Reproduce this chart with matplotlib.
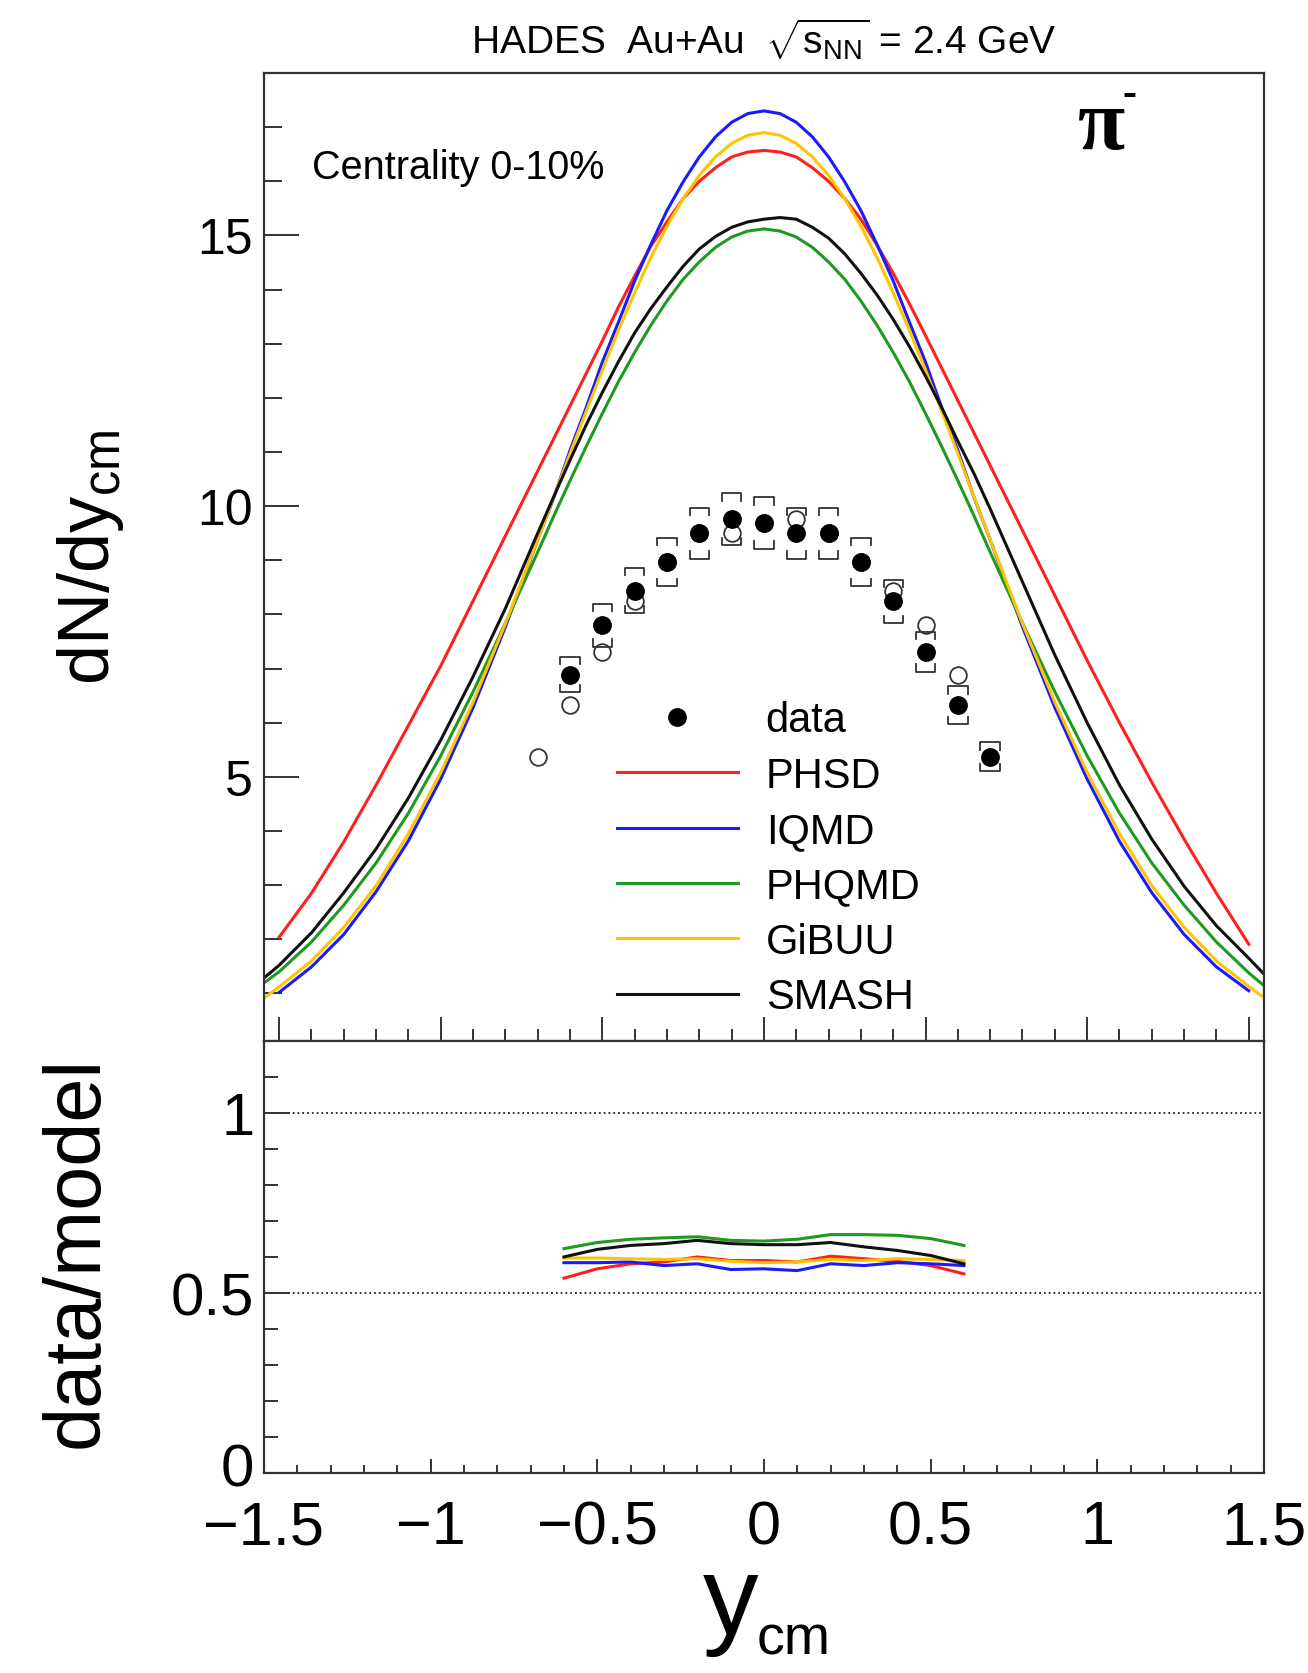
import numpy as np
import matplotlib
matplotlib.use('Agg')
import matplotlib.pyplot as plt
import matplotlib.transforms as mtransforms
from matplotlib.ticker import FixedLocator, MultipleLocator
from matplotlib.lines import Line2D

plt.rcParams['font.family'] = ['Liberation Sans', 'DejaVu Sans']
plt.rcParams['mathtext.fontset'] = 'custom'
plt.rcParams['mathtext.rm'] = 'Liberation Sans'
plt.rcParams['mathtext.it'] = 'Liberation Sans:italic'
plt.rcParams['mathtext.bf'] = 'Liberation Sans:bold'

# measured pi- yield (filled) with systematic brackets
y_data = [-0.6, -0.5, -0.4, -0.3, -0.2, -0.1, 0.0, 0.1, 0.2, 0.3, 0.4, 0.5, 0.6, 0.7]
dndy_data = [6.89, 7.80, 8.44, 8.97, 9.50, 9.76, 9.69, 9.50, 9.50, 8.97, 8.24, 7.31, 6.32, 5.37]
dndy_sys = [0.33, 0.40, 0.42, 0.45, 0.47, 0.48, 0.48, 0.47, 0.47, 0.45, 0.40, 0.37, 0.35, 0.27]

# reflected points (open circles)
y_refl = [-0.7, -0.6, -0.5, -0.4, -0.3, -0.2, -0.1, 0.0, 0.1, 0.2, 0.3, 0.4, 0.5, 0.6]
dndy_refl = [5.37, 6.32, 7.31, 8.24, 8.97, 9.50, 9.50, 9.69, 9.76, 9.50, 8.97, 8.44, 7.80, 6.89]

# transport model curves
y_model = [-1.55, -1.5, -1.4, -1.3, -1.2, -1.1, -1.0, -0.9, -0.8,
           -0.7, -0.65, -0.6, -0.55, -0.5, -0.45, -0.4, -0.35, -0.3, -0.25, -0.2, -0.15,
           -0.1, -0.05, 0.0, 0.05, 0.1, 0.15, 0.2, 0.25, 0.3, 0.35, 0.4, 0.45, 0.5, 0.55,
           0.6, 0.65, 0.7,
           0.8, 0.9, 1.0, 1.1, 1.2, 1.3, 1.4, 1.5, 1.55]
nan = np.nan
phsd = [nan, 2.04, 2.85, 3.8, 4.85, 5.95, 7.05, 8.25, 9.45,
        10.65, 11.25, 11.85, 12.45, 13.05, 13.68, 14.25, 14.8, 15.25, 15.68, 16.0, 16.25,
        16.45, 16.54, 16.57, 16.54, 16.45, 16.25, 16.0, 15.68, 15.3, 14.82, 14.3, 13.74,
        13.15, 12.55, 11.95, 11.35, 10.75,
        9.55, 8.35, 7.15, 6.0, 4.9, 3.85, 2.85, 1.91, nan]
iqmd = [nan, 1.02, 1.49, 2.09, 2.88, 3.82, 4.96, 6.28, 7.77,
        9.38, 10.16, 11.03, 11.82, 12.66, 13.40, 14.16, 14.83, 15.46, 15.99, 16.45, 16.82,
        17.09, 17.25, 17.3, 17.25, 17.09, 16.82, 16.45, 15.99, 15.46, 14.83, 14.16, 13.40,
        12.66, 11.82, 11.03, 10.16, 9.38,
        7.77, 6.28, 4.96, 3.81, 2.86, 2.09, 1.49, 1.05, nan]
phqmd = [1.18, 1.40, 1.95, 2.63, 3.41, 4.33, 5.39, 6.57, 7.84,
         9.15, 9.82, 10.47, 11.10, 11.71, 12.30, 12.84, 13.34, 13.79, 14.19, 14.51, 14.78,
         14.97, 15.08, 15.12, 15.08, 14.97, 14.78, 14.51, 14.19, 13.79, 13.34, 12.84, 12.30,
         11.71, 11.10, 10.47, 9.82, 9.15,
         7.84, 6.57, 5.39, 4.33, 3.41, 2.63, 1.95, 1.38, 1.13]
gibuu = [0.90, 1.12, 1.60, 2.22, 2.99, 3.95, 5.08, 6.38, 7.83,
         9.38, 10.17, 10.97, 11.75, 12.51, 13.25, 13.94, 14.59, 15.17, 15.68, 16.11, 16.45,
         16.70, 16.85, 16.9, 16.85, 16.70, 16.45, 16.11, 15.68, 15.17, 14.59, 13.94, 13.25,
         12.51, 11.75, 10.97, 10.17, 9.38,
         7.83, 6.38, 5.08, 3.95, 2.99, 2.22, 1.60, 1.13, 0.91]
smash = [1.27, 1.52, 2.12, 2.86, 3.67, 4.61, 5.68, 6.85, 8.11,
         9.5, 10.18, 10.85, 11.5, 12.1, 12.67, 13.2, 13.65, 14.05, 14.43, 14.75, 14.98,
         15.15, 15.25, 15.3, 15.33, 15.3, 15.15, 14.95, 14.66, 14.3, 13.9, 13.45, 12.95,
         12.4, 11.82, 11.2, 10.6, 9.95,
         8.6, 7.25, 6.0, 4.85, 3.85, 2.98, 2.25, 1.65, 1.34]

# data/model ratios
y_ratio = [-0.6, -0.5, -0.4, -0.3, -0.2, -0.1, 0.0, 0.1, 0.2, 0.3, 0.4, 0.5, 0.6]
ratio_phsd = [0.541, 0.567, 0.581, 0.586, 0.600, 0.590, 0.590, 0.586, 0.602, 0.595, 0.588, 0.576, 0.553]
ratio_iqmd = [0.584, 0.584, 0.586, 0.576, 0.581, 0.565, 0.567, 0.562, 0.581, 0.576, 0.584, 0.581, 0.576]
ratio_phqmd = [0.623, 0.640, 0.649, 0.653, 0.656, 0.646, 0.644, 0.649, 0.662, 0.662, 0.660, 0.651, 0.632]
ratio_gibuu = [0.597, 0.597, 0.595, 0.593, 0.595, 0.588, 0.584, 0.586, 0.593, 0.590, 0.595, 0.593, 0.590]
ratio_smash = [0.600, 0.621, 0.632, 0.637, 0.646, 0.637, 0.634, 0.634, 0.640, 0.628, 0.618, 0.604, 0.581]

model_names = ['PHSD', 'IQMD', 'PHQMD', 'GiBUU', 'SMASH']
model_colors = ['#ff1f1f', '#1a1aff', '#1f9a1f', '#ffc400', '#111111']
model_curves = [phsd, iqmd, phqmd, gibuu, smash]
model_ratios = [ratio_phsd, ratio_iqmd, ratio_phqmd, ratio_gibuu, ratio_smash]

x_ticks = [-1.5, -1.0, -0.5, 0.0, 0.5, 1.0, 1.5]
x_ticklabels = ['\u22121.5', '\u22121', '\u22120.5', '0', '0.5', '1', '1.5']
ratio_lines = [1.0, 0.5]


def draw_brackets(ax, xs, ys, errs, half_w, tick, **kw):
    for x, y, e in zip(xs, ys, errs):
        top, bot = y + e, y - e
        ax.plot([x - half_w, x - half_w, x + half_w, x + half_w],
                [top - tick, top, top, top - tick], **kw)
        ax.plot([x - half_w, x - half_w, x + half_w, x + half_w],
                [bot + tick, bot, bot, bot + tick], **kw)


fig = plt.figure(figsize=(13.08, 16.74), dpi=100)
ax1 = fig.add_axes([0.2018, 0.3775, 0.7645, 0.5783])
ax2 = fig.add_axes([0.2018, 0.1195, 0.7645, 0.2581])

for name, col, vals in zip(model_names, model_colors, model_curves):
    ax1.plot(y_model, vals, color=col, lw=2.2, label=name, zorder=2,
             solid_joinstyle='round')

ax1.plot(y_refl, dndy_refl, ls='none', marker='o', ms=12, mfc='none', mec='#333333',
         mew=1.3, zorder=3)
draw_brackets(ax1, y_data, dndy_data, dndy_sys, 0.03, 0.14, color='#333333', lw=1.3, zorder=3)
ax1.plot(y_data, dndy_data, ls='none', marker='o', ms=12.5, color='black', zorder=4)

ax1.set_xlim(-1.547, 1.547)
ax1.set_ylim(0.12, 18)
ax1.xaxis.set_major_locator(FixedLocator(x_ticks))
ax1.xaxis.set_minor_locator(MultipleLocator(0.1))
ax1.yaxis.set_major_locator(FixedLocator([5, 10, 15]))
ax1.yaxis.set_minor_locator(MultipleLocator(1))
ax1.tick_params(axis='x', which='both', direction='in', labelbottom=False, top=False,
                width=1.4, color='#333333')
ax1.tick_params(axis='x', which='major', length=17)
ax1.tick_params(axis='x', which='minor', length=8.6)
ax1.tick_params(axis='y', which='both', direction='in', right=False, width=1.4, color='#333333')
ax1.tick_params(axis='y', which='major', length=25, labelsize=36, pad=8)
ax1.tick_params(axis='y', which='minor', length=13)

handles = [Line2D([], [], ls='none', marker='o', ms=12.5, color='black')]
handles += [Line2D([], [], color=c, lw=2.2) for c in model_colors]
ax1.legend(handles, ['data'] + model_names, loc='upper left', bbox_to_anchor=(0.353, 0.352),
           frameon=False, fontsize=30, handlelength=2.9, handletextpad=0.67,
           labelspacing=0.37, borderpad=0, borderaxespad=0)

ax1.text(0.048, 0.903, 'Centrality 0-10%', transform=ax1.transAxes, fontsize=28.5,
         ha='left', va='center')
ax1.text(0.814, 0.944, '\u03c0', transform=ax1.transAxes, fontsize=62,
         family='Liberation Serif', fontweight='bold', ha='left', va='center')
ax1.text(0.859, 0.978, '-', transform=ax1.transAxes, fontsize=30,
         family='Liberation Serif', fontweight='bold', ha='left', va='center')

for name, col, vals in zip(model_names, model_colors, model_ratios):
    ax2.plot(y_ratio, vals, color=col, lw=2.2, solid_joinstyle='round')
for level in ratio_lines:
    ax2.axhline(level, color='#222222', ls=':', lw=1.3, zorder=1)

ax2.set_xlim(-1.5, 1.5)
ax2.set_ylim(0, 1.2)
ax2.xaxis.set_major_locator(FixedLocator(x_ticks))
ax2.set_xticklabels(x_ticklabels)
ax2.xaxis.set_minor_locator(MultipleLocator(0.1))
ax2.yaxis.set_major_locator(FixedLocator([0, 0.5, 1]))
ax2.set_yticklabels(['0', '0.5', '1'])
ax2.yaxis.set_minor_locator(MultipleLocator(0.1))
ax2.tick_params(axis='x', which='both', direction='in', top=False, width=1.4, color='#333333')
ax2.tick_params(axis='x', which='major', length=10, labelsize=44, pad=19)
ax2.tick_params(axis='x', which='minor', length=6)
ax2.tick_params(axis='y', which='both', direction='in', right=False, width=1.4, color='#333333')
ax2.tick_params(axis='y', which='major', length=19, labelsize=43, pad=7)
ax2.tick_params(axis='y', which='minor', length=10)

# nudge the "0" label up a little so it does not run into the "-1.5" below it
zero_label = ax2.yaxis.get_major_ticks()[0].label1
zero_label.set_transform(zero_label.get_transform()
                         + mtransforms.ScaledTranslation(0, 9 / 100, fig.dpi_scale_trans))

for ax in (ax1, ax2):
    for sp in ax.spines.values():
        sp.set_linewidth(1.6)
        sp.set_color('#333333')

fig.text(764 / 1308, 1 - 40 / 1674, r'HADES  Au+Au  $\sqrt{\mathrm{s}_{\mathrm{NN}}}$ = 2.4 GeV',
         ha='center', va='center', fontsize=28)
fig.text(91 / 1308, 1 - 557 / 1674, r'dN/dy$_{\mathrm{cm}}$', rotation=90,
         ha='center', va='center', fontsize=52)
fig.text(77 / 1308, 1 - 1252 / 1674, 'data/model', rotation=90,
         ha='center', va='center', fontsize=57)
fig.text(703 / 1308, 1 - 1634 / 1674, 'y', ha='left', va='baseline', fontsize=80)
fig.text(757 / 1308, 1 - 1655 / 1674, 'cm', ha='left', va='baseline', fontsize=40)

fig.savefig('out.png', dpi=100)
